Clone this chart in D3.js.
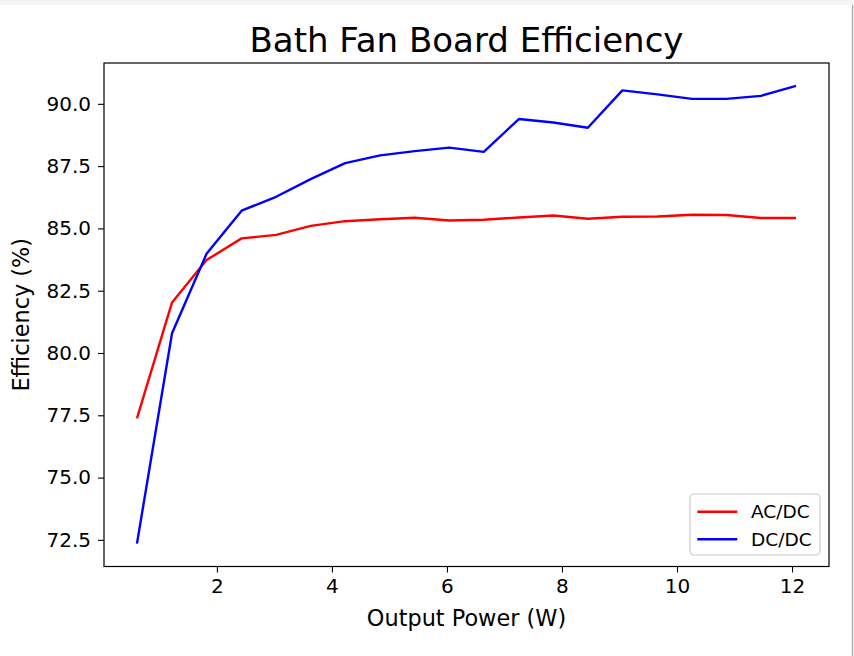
<!DOCTYPE html>
<html>
<head>
<meta charset="utf-8">
<script src="https://cdn.jsdelivr.net/npm/d3@7"></script>
<style>
  body { margin: 0; background: #fff; }
  svg { display: block; font-family: "DejaVu Sans", sans-serif; }
</style>
</head>
<body>
<svg id="chart" width="854" height="656"></svg>
<script>
// output power (W) and efficiency (%)
var power = [0.61, 1.22, 1.82, 2.43, 3.03, 3.63, 4.23, 4.84, 5.44, 6.04,
             6.64, 7.25, 7.85, 8.45, 9.05, 9.66, 10.26, 10.86, 11.46, 12.07];
var acdc = [77.38, 82.03, 83.73, 84.60, 84.74, 85.10, 85.29, 85.37, 85.43, 85.32,
            85.35, 85.44, 85.52, 85.39, 85.47, 85.48, 85.55, 85.54, 85.42, 85.42];
var dcdc = [72.35, 80.79, 83.98, 85.71, 86.27, 86.98, 87.62, 87.93, 88.10, 88.24,
            88.07, 89.39, 89.25, 89.04, 90.54, 90.38, 90.20, 90.20, 90.32, 90.72];
var seriesNames = ["AC/DC", "DC/DC"];
var seriesColors = ["#ff0000", "#0000ff"];
var xTicks = [2, 4, 6, 8, 10, 12];
var yTicks = [72.5, 75.0, 77.5, 80.0, 82.5, 85.0, 87.5, 90.0];

var svg = d3.select("#chart");
var W = 854, H = 656;
// plot area (window.top is reserved, so keep these in an object)
var box = { l: 104, r: 829, t: 63, b: 566.5 };

// frame edges of the original screenshot
svg.append("rect").attr("x", 0).attr("y", 0).attr("width", W).attr("height", 5).attr("fill", "#f5f5f5");
svg.append("line").attr("x1", 852.5).attr("x2", 852.5).attr("y1", 5).attr("y2", H)
  .attr("stroke", "#b0b0b0").attr("stroke-width", 1.5);

// matplotlib style 5% margins
function padded(ext) {
  var d = (ext[1] - ext[0]) * 0.05;
  return [ext[0] - d, ext[1] + d];
}
var x = d3.scaleLinear().domain(padded(d3.extent(power))).range([box.l, box.r]);
var y = d3.scaleLinear().domain(padded(d3.extent(acdc.concat(dcdc)))).range([box.b, box.t]);

var g = svg.append("g");

// lines
var series = [acdc, dcdc];
var line = d3.line()
  .x(function(d, i) { return x(power[i]); })
  .y(function(d) { return y(d); });

series.forEach(function(s, k) {
  g.append("path")
    .datum(s)
    .attr("fill", "none")
    .attr("stroke", seriesColors[k])
    .attr("stroke-width", 2.4)
    .attr("stroke-linejoin", "round")
    .attr("d", line);
});

// axes
var xAxis = d3.axisBottom(x).tickValues(xTicks).tickSize(6).tickPadding(6).tickFormat(d3.format("d"));
var yAxis = d3.axisLeft(y).tickValues(yTicks).tickSize(6).tickPadding(7).tickFormat(d3.format(".1f"));

var gx = svg.append("g").attr("transform", "translate(0," + box.b + ")").call(xAxis);
var gy = svg.append("g").attr("transform", "translate(" + box.l + ",0)").call(yAxis);
[gx, gy].forEach(function(a) {
  a.select(".domain").remove();
  a.selectAll(".tick line").attr("stroke", "#000").attr("stroke-width", 1.1);
  a.selectAll(".tick text").attr("fill", "#000").attr("font-size", 20)
    .attr("font-family", "DejaVu Sans");
});

// box
svg.append("rect")
  .attr("x", box.l).attr("y", box.t)
  .attr("width", box.r - box.l).attr("height", box.b - box.t)
  .attr("fill", "none").attr("stroke", "#000").attr("stroke-width", 1.2);

// title and labels
svg.append("text").attr("x", (box.l + box.r) / 2).attr("y", 52)
  .attr("text-anchor", "middle").attr("font-size", 34).text("Bath Fan Board Efficiency");
svg.append("text").attr("x", (box.l + box.r) / 2).attr("y", 626)
  .attr("text-anchor", "middle").attr("font-size", 22.4).text("Output Power (W)");
svg.append("text")
  .attr("transform", "translate(29," + (box.t + box.b) / 2 + ") rotate(-90)")
  .attr("text-anchor", "middle").attr("font-size", 22.4).text("Efficiency (%)");

// legend
var lg = svg.append("g").attr("transform", "translate(690,494)");
lg.append("rect").attr("width", 130).attr("height", 61).attr("rx", 4)
  .attr("fill", "#fff").attr("fill-opacity", 0.8)
  .attr("stroke", "#cccccc").attr("stroke-width", 1.2);
seriesNames.forEach(function(name, k) {
  var yy = 17.7 + k * 27.6;
  lg.append("line").attr("x1", 7.3).attr("x2", 47.3).attr("y1", yy).attr("y2", yy)
    .attr("stroke", seriesColors[k]).attr("stroke-width", 2.4);
  lg.append("text").attr("x", 61).attr("y", yy + 6.6)
    .attr("font-size", 18.5).text(name);
});
</script>
</body>
</html>
